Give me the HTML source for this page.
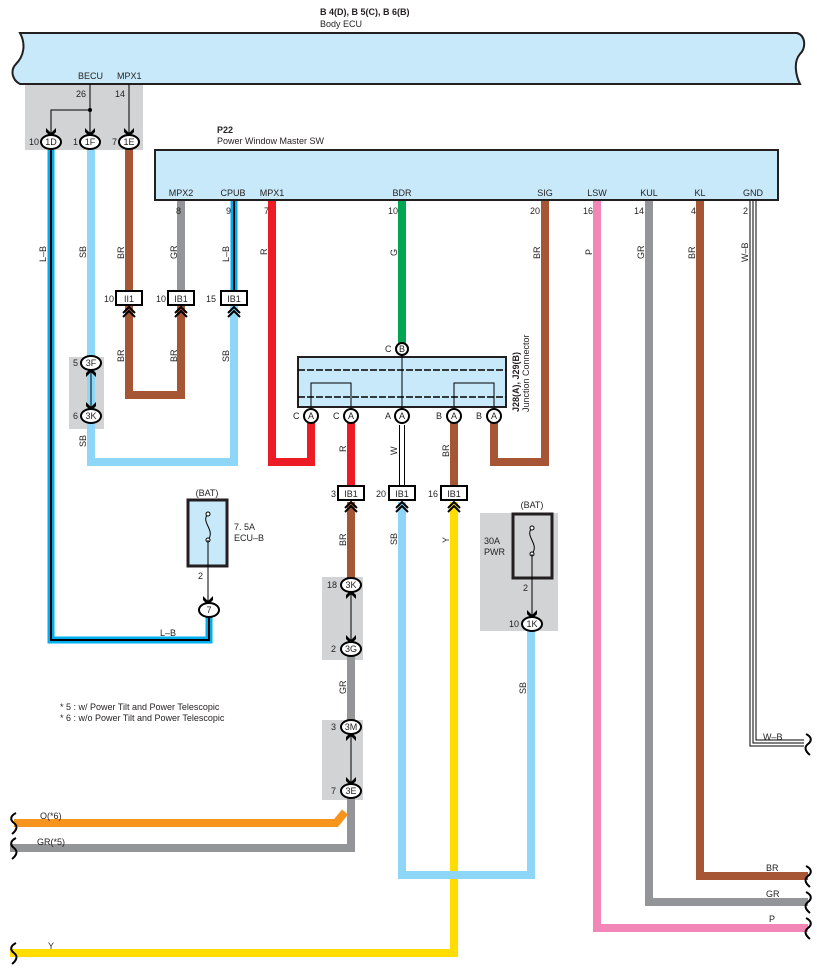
<!DOCTYPE html>
<html><head><meta charset="utf-8"><style>
html,body{margin:0;padding:0;background:#fff}
svg{display:block}
text{font-family:"Liberation Sans",Arial,sans-serif;font-size:9px;fill:#231f20}
.b{font-weight:bold}
.w{fill:none;stroke-width:8;stroke-linejoin:miter;stroke-linecap:square}
</style></head><body>
<svg width="817" height="976" viewBox="0 0 817 976" xmlns="http://www.w3.org/2000/svg">
<defs>
<g id="up"><path d="M-6,5 L0,-1 L6,5 M-6,9 L0,3 L6,9" fill="none" stroke="#000" stroke-width="2"/></g>
<g id="dn"><path d="M-5,-7 L0,-2 L5,-7 L5,-3 L0,2 L-5,-3 Z" fill="#000"/></g>
</defs>
<!-- title -->
<text x="320" y="15" class="b">B 4(D), B 5(C), B 6(B)</text>
<text x="320" y="27">Body ECU</text>
<!-- body ecu bar -->
<path d="M20,33 L797,33 C806,36 806,48 800,54 C793,62 796,76 800,84 L20,84 C12,80 10,70 16,64 C24,56 26,44 20,33 Z" fill="#c8e9f9" stroke="#231f20" stroke-width="2"/>
<text x="78" y="79">BECU</text><text x="117" y="79">MPX1</text>
<!-- gray boxes -->
<rect x="25" y="85" width="118" height="65" fill="#d1d3d4"/>
<rect x="69" y="357" width="35" height="72" fill="#d1d3d4"/>
<rect x="322" y="577" width="41" height="83" fill="#d1d3d4"/>
<rect x="322" y="720" width="41" height="80" fill="#d1d3d4"/>
<rect x="480" y="513" width="78" height="118" fill="#d1d3d4"/>
<text x="76" y="97">26</text><text x="115" y="97">14</text>
<path d="M90,84 V135 M90,110 H51 V135 M129,84 V135" stroke="#000" stroke-width="1" fill="none"/>
<circle cx="90" cy="110" r="2" fill="#000"/>
<use href="#dn" x="51" y="135"/><use href="#dn" x="90" y="135"/><use href="#dn" x="129" y="135"/>

<!-- wires -->
<path class="w" d="M91,150 V462 H234 V310" stroke="#8dd6f7"/>
<path class="w" d="M129,150 V292 M129,310 V395 H181 V310" stroke="#a65535"/>
<path class="w" d="M181,200 V292" stroke="#939598"/>
<path class="w" d="M272,200 V462 H311 V425" stroke="#ed1c24"/>
<path class="w" d="M402,200 V342" stroke="#00a651"/>
<path class="w" d="M545,200 V462 H494 V425" stroke="#a65535"/>
<path class="w" d="M351,425 V486" stroke="#ed1c24"/>
<path class="w" d="M454,425 V486" stroke="#a65535"/>
<path class="w" d="M351,506 V578" stroke="#a65535"/>
<path class="w" d="M351,656 V720 M351,798 V848 H14" stroke="#939598"/>
<path d="M345,812 L336,823 H14" fill="none" stroke="#f7941d" stroke-width="8"/>
<path class="w" d="M454,506 V953 H14" stroke="#ffdd00"/>
<path class="w" d="M402,506 V875 H531 V630" stroke="#8dd6f7"/>
<path class="w" d="M597,200 V928 H804" stroke="#f287b7"/>
<path class="w" d="M649,200 V902 H804" stroke="#939598"/>
<path class="w" d="M700,200 V876 H804" stroke="#a65535"/>
<!-- L-B wires -->
<path d="M51,150 V640 H209 V616" fill="none" stroke="#00aeef" stroke-width="7"/>
<path d="M51,150 V640 H209 V616" fill="none" stroke="#000" stroke-width="2"/>
<path d="M234,200 V292" fill="none" stroke="#00aeef" stroke-width="7"/>
<path d="M234,200 V292" fill="none" stroke="#000" stroke-width="2"/>
<!-- W double -->
<path d="M402,425 V487" stroke="#000" stroke-width="6"/><path d="M402,425 V487" stroke="#fff" stroke-width="4"/>
<!-- W-B triple -->
<path d="M753,200 V743 H804" fill="none" stroke="#000" stroke-width="7"/>
<path d="M753,200 V743 H804" fill="none" stroke="#fff" stroke-width="5"/>
<path d="M753,200 V743 H804" fill="none" stroke="#000" stroke-width="1"/>

<!-- P22 -->
<text x="217" y="133" class="b">P22</text>
<text x="217" y="144">Power Window Master SW</text>
<rect x="155" y="150" width="623" height="50" fill="#c8e9f9" stroke="#231f20" stroke-width="2"/>
<g text-anchor="middle">
<text x="181" y="196">MPX2</text><text x="233" y="196">CPUB</text><text x="272" y="196">MPX1</text>
<text x="402" y="196">BDR</text><text x="545" y="196">SIG</text><text x="597" y="196">LSW</text>
<text x="649" y="196">KUL</text><text x="700" y="196">KL</text><text x="753" y="196">GND</text>
</g>

<!-- pin numbers -->
<text x="176" y="214">8</text><text x="226" y="214">9</text><text x="264" y="214">7</text>
<text x="388" y="214">10</text><text x="530" y="214">20</text><text x="583" y="214">16</text>
<text x="634" y="214">14</text><text x="691" y="214">4</text><text x="743" y="214">2</text>

<!-- ECU connectors -->
<g stroke="#000" stroke-width="2" fill="#fff">
<ellipse cx="51" cy="142" rx="10" ry="7"/><ellipse cx="90" cy="142" rx="10" ry="7"/><ellipse cx="129" cy="142" rx="10" ry="7"/>
</g>
<g text-anchor="middle"><text x="51" y="145">1D</text><text x="90" y="145">1F</text><text x="129" y="145">1E</text></g>
<text x="29" y="145">10</text><text x="73" y="145">1</text><text x="112" y="145">7</text>

<!-- IB boxes row 1 -->
<g stroke="#000" stroke-width="2" fill="#fff">
<rect x="116" y="291" width="26" height="14"/><rect x="168" y="291" width="26" height="14"/><rect x="221" y="291" width="26" height="14"/>
<rect x="338" y="486" width="26" height="14"/><rect x="389" y="486" width="26" height="14"/><rect x="441" y="486" width="26" height="14"/>
</g>
<g text-anchor="middle"><text x="129" y="302">II1</text><text x="181" y="302">IB1</text><text x="234" y="302">IB1</text>
<text x="351" y="497">IB1</text><text x="402" y="497">IB1</text><text x="454" y="497">IB1</text></g>
<text x="104" y="302">10</text><text x="156" y="302">10</text><text x="206" y="302">15</text>
<text x="331" y="497">3</text><text x="376" y="497">20</text><text x="428" y="497">16</text>
<use href="#up" x="129" y="308"/><use href="#up" x="181" y="308"/><use href="#up" x="234" y="308"/>
<use href="#up" x="351" y="503"/><use href="#up" x="402" y="503"/><use href="#up" x="454" y="503"/>

<!-- junction connector -->
<rect x="298" y="357" width="208" height="50" fill="#c8e9f9" stroke="#231f20" stroke-width="2"/>
<path d="M298,370 H506 M298,397 H506" stroke="#000" stroke-width="1.5" stroke-dasharray="7,2"/>
<path d="M311,407 V383 H351 V407 M454,407 V383 H494 V407 M402,349 V416" fill="none" stroke="#000" stroke-width="1"/>
<g stroke="#000" stroke-width="2" fill="#fff">
<circle cx="402" cy="349" r="6"/>
<circle cx="311" cy="416" r="7"/><circle cx="351" cy="416" r="7"/><circle cx="402" cy="416" r="7"/><circle cx="454" cy="416" r="7"/><circle cx="494" cy="416" r="7"/>
</g>
<g text-anchor="middle"><text x="402" y="352">B</text>
<text x="311" y="419">A</text><text x="351" y="419">A</text><text x="402" y="419">A</text><text x="454" y="419">A</text><text x="494" y="419">A</text></g>
<text x="385" y="352">C</text>
<text x="293" y="419">C</text><text x="333" y="419">C</text><text x="385" y="419">A</text><text x="436" y="419">B</text><text x="476" y="419">B</text>
<text transform="translate(519,412) rotate(-90)" class="b">J28(A), J29(B)</text>
<text transform="translate(529,412) rotate(-90)">Junction Connector</text>

<!-- 3F / 3K -->
<path d="M91,370 V409" stroke="#000" stroke-width="1"/>
<use href="#dn" x="91" y="409" /><g transform="translate(91,370) rotate(180)"><use href="#dn"/></g>
<g stroke="#000" stroke-width="2" fill="#fff"><ellipse cx="91" cy="363" rx="10" ry="7"/><ellipse cx="91" cy="416" rx="10" ry="7"/></g>
<g text-anchor="middle"><text x="91" y="366">3F</text><text x="91" y="419">3K</text></g>
<text x="73" y="366">5</text><text x="73" y="419">6</text>

<!-- 3K/3G/3M/3E -->
<path d="M351,592 V642 M351,734 V784" stroke="#000" stroke-width="1"/>
<use href="#dn" x="351" y="642"/><g transform="translate(351,592) rotate(180)"><use href="#dn"/></g>
<use href="#dn" x="351" y="784"/><g transform="translate(351,734) rotate(180)"><use href="#dn"/></g>
<g stroke="#000" stroke-width="2" fill="#fff">
<ellipse cx="351" cy="585" rx="10" ry="7"/><ellipse cx="351" cy="649" rx="10" ry="7"/>
<ellipse cx="351" cy="727" rx="10" ry="7"/><ellipse cx="351" cy="791" rx="10" ry="7"/></g>
<g text-anchor="middle"><text x="351" y="588">3K</text><text x="351" y="652">3G</text><text x="351" y="730">3M</text><text x="351" y="794">3E</text></g>
<text x="327" y="588">18</text><text x="331" y="652">2</text><text x="331" y="730">3</text><text x="331" y="794">7</text>

<!-- fuse 7.5A -->
<text x="207" y="496" text-anchor="middle">(BAT)</text>
<rect x="188" y="500" width="39" height="66" fill="#c8e9f9" stroke="#231f20" stroke-width="3"/>
<path d="M208,514 C200,522 216,530 208,540" fill="none" stroke="#000" stroke-width="1"/>
<circle cx="208" cy="514" r="2" fill="#fff" stroke="#000"/><circle cx="208" cy="540" r="2" fill="#fff" stroke="#000"/>
<path d="M208,540 V602" stroke="#000" stroke-width="1"/>
<use href="#dn" x="208" y="603"/>
<text x="234" y="530">7. 5A</text><text x="234" y="541">ECU–B</text>
<text x="198" y="579">2</text>
<ellipse cx="209" cy="610" rx="10" ry="7" fill="#fff" stroke="#000" stroke-width="2"/>
<text x="209" y="613" text-anchor="middle">7</text>
<text x="160" y="636">L–B</text>

<!-- fuse 30A -->
<text x="532" y="508" text-anchor="middle">(BAT)</text>
<rect x="513" y="514" width="39" height="64" fill="none" stroke="#231f20" stroke-width="3"/>
<path d="M532,528 C524,536 540,544 532,554" fill="none" stroke="#000" stroke-width="1"/>
<circle cx="532" cy="528" r="2" fill="#fff" stroke="#000"/><circle cx="532" cy="554" r="2" fill="#fff" stroke="#000"/>
<path d="M532,554 V617" stroke="#000" stroke-width="1"/>
<use href="#dn" x="532" y="617"/>
<text x="484" y="544">30A</text><text x="484" y="555">PWR</text>
<text x="523" y="591">2</text>
<ellipse cx="532" cy="624" rx="10" ry="7" fill="#fff" stroke="#000" stroke-width="2"/>
<text x="532" y="627" text-anchor="middle">1K</text>
<text x="509" y="627">10</text>

<!-- wire labels rotated -->
<g>
<text transform="translate(46,262) rotate(-90)">L–B</text>
<text transform="translate(86,258) rotate(-90)">SB</text>
<text transform="translate(124,259) rotate(-90)">BR</text>
<text transform="translate(177,259) rotate(-90)">GR</text>
<text transform="translate(229,262) rotate(-90)">L–B</text>
<text transform="translate(267,255) rotate(-90)">R</text>
<text transform="translate(397,256) rotate(-90)">G</text>
<text transform="translate(540,259) rotate(-90)">BR</text>
<text transform="translate(592,255) rotate(-90)">P</text>
<text transform="translate(644,259) rotate(-90)">GR</text>
<text transform="translate(695,259) rotate(-90)">BR</text>
<text transform="translate(748,262) rotate(-90)">W–B</text>
<text transform="translate(124,362) rotate(-90)">BR</text>
<text transform="translate(177,362) rotate(-90)">BR</text>
<text transform="translate(229,362) rotate(-90)">SB</text>
<text transform="translate(86,447) rotate(-90)">SB</text>
<text transform="translate(346,452) rotate(-90)">R</text>
<text transform="translate(397,455) rotate(-90)">W</text>
<text transform="translate(449,457) rotate(-90)">BR</text>
<text transform="translate(346,546) rotate(-90)">BR</text>
<text transform="translate(397,545) rotate(-90)">SB</text>
<text transform="translate(449,543) rotate(-90)">Y</text>
<text transform="translate(346,694) rotate(-90)">GR</text>
<text transform="translate(526,694) rotate(-90)">SB</text>
</g>
<text x="763" y="740">W–B</text>
<text x="766" y="871">BR</text><text x="766" y="897">GR</text><text x="769" y="922">P</text>
<text x="40" y="819">O(*6)</text><text x="37" y="845">GR(*5)</text><text x="48" y="949">Y</text>

<!-- notes -->
<text x="60" y="710">* 5 : w/ Power Tilt and Power Telescopic</text>
<text x="60" y="721">* 6 : w/o Power Tilt and Power Telescopic</text>

<!-- wavy breaks -->
<g fill="none" stroke="#000" stroke-width="2">
<path d="M16,813 C10,816 10,820 14,823 C18,826 17,830 12,834"/>
<path d="M16,838 C10,841 10,845 14,848 C18,851 17,855 12,859"/>
<path d="M16,943 C10,946 10,950 14,953 C18,956 17,960 12,964"/>
<path d="M806,734 C812,737 812,741 808,744 C804,747 805,751 810,755"/>
<path d="M806,866 C812,869 812,873 808,876 C804,879 805,883 810,887"/>
<path d="M806,892 C812,895 812,899 808,902 C804,905 805,909 810,913"/>
<path d="M806,918 C812,921 812,925 808,928 C804,931 805,935 810,939"/>
</g>
</svg>
</body></html>
